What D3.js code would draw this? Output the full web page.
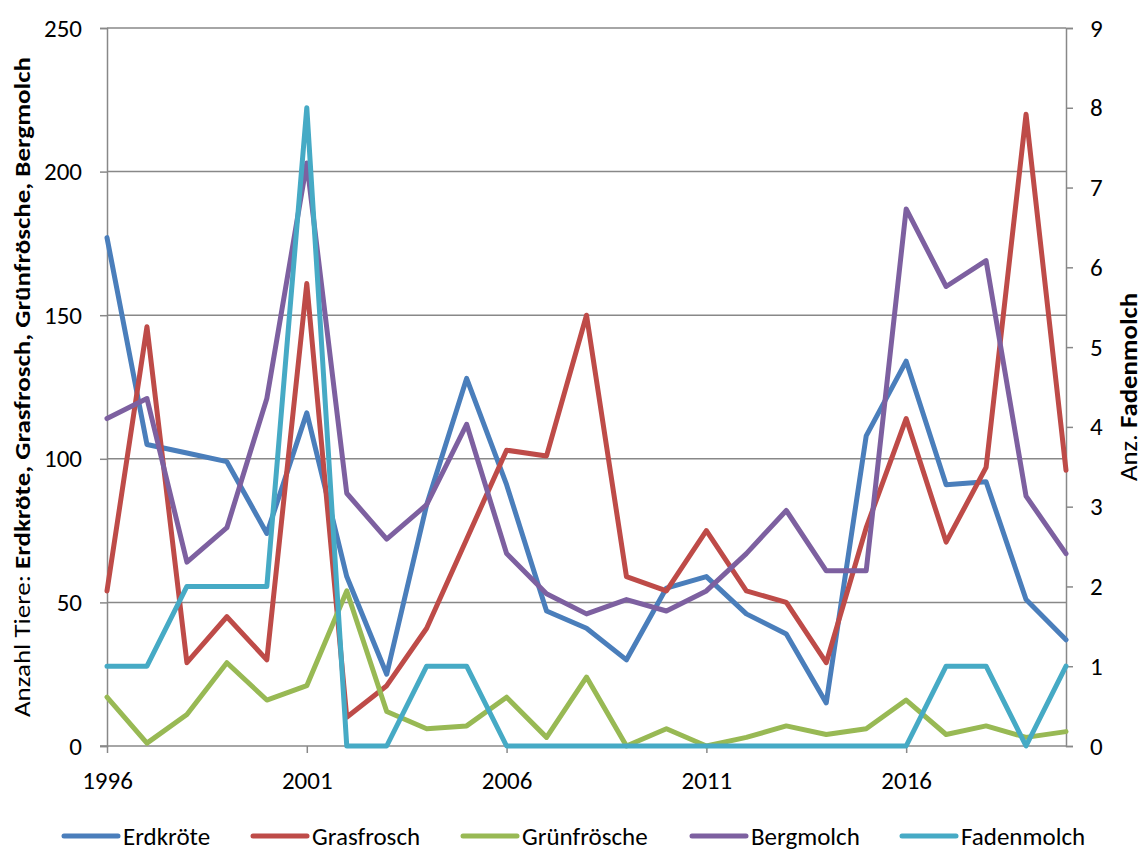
<!DOCTYPE html>
<html>
<head>
<meta charset="utf-8">
<script src="https://cdn.jsdelivr.net/npm/d3@7"></script>
<style>
  html, body { margin: 0; padding: 0; background: #fff; }
  svg { display: block; font-family: Carlito, Calibri, Lato, sans-serif; }
</style>
</head>
<body>
<svg id="chart" width="1145" height="855"></svg>
<script>
// Amphibian counts per year
const years = d3.range(1996, 2021);
const erdkroete   = [177,105,102,99,74,116,59,25,84,128,91,47,41,30,55,59,46,39,15,108,134,91,92,51,37];
const grasfrosch  = [54,146,29,45,30,161,10,21,41,72,103,101,150,59,54,75,54,50,29,76,114,71,97,220,96];
const gruenfroesche = [17,1,11,29,16,21,54,12,6,7,17,3,24,0,6,0,3,7,4,6,16,4,7,3,5];
const bergmolch   = [114,121,64,76,121,203,88,72,84,112,67,53,46,51,47,54,67,82,61,61,187,160,169,87,67];
// Fadenmolch is plotted on the secondary (right) axis
const fadenmolch  = [1,1,2,2,2,8,0,0,1,1,0,0,0,0,0,0,0,0,0,0,0,1,1,0,1];

const seriesNames = ["Erdkröte", "Grasfrosch", "Grünfrösche", "Bergmolch", "Fadenmolch"];
const seriesColors = ["#4a7ebb", "#be4b48", "#98b954", "#7d60a0", "#46aac5"];
const leftTicks = [0, 50, 100, 150, 200, 250];
const rightTicks = [0, 1, 2, 3, 4, 5, 6, 7, 8, 9];
const xTickYears = [1996, 2001, 2006, 2011, 2016];

const svg = d3.select("#chart");
const plotLeft = 107, plotRight = 1066, plotTop = 28, plotBottom = 746;
const gridColor = "#888888";
const textColor = "#000";
const tickFont = "25px";

const x = d3.scaleLinear().domain([1996, 2020]).range([plotLeft, plotRight]);
const yL = d3.scaleLinear().domain([0, 250]).range([plotBottom, plotTop]);
const yR = d3.scaleLinear().domain([0, 9]).range([plotBottom, plotTop]);

// horizontal gridlines for the primary axis
svg.append("g").selectAll("line").data(leftTicks.filter(d => d > 0)).join("line")
  .attr("x1", plotLeft).attr("x2", plotRight)
  .attr("y1", d => yL(d)).attr("y2", d => yL(d))
  .attr("stroke", gridColor).attr("stroke-width", 1.5);

// primary axis (left)
const gLeft = svg.append("g").attr("transform", `translate(${plotLeft},0)`)
  .call(d3.axisLeft(yL).tickValues(leftTicks).tickSize(7).tickPadding(18).tickFormat(d3.format("d")));
// secondary axis (right)
const gRight = svg.append("g").attr("transform", `translate(${plotRight},0)`)
  .call(d3.axisRight(yR).tickValues(rightTicks).tickSize(7).tickPadding(17).tickFormat(d3.format("d")));
// category axis (bottom)
const gBottom = svg.append("g").attr("transform", `translate(0,${plotBottom})`)
  .call(d3.axisBottom(x).tickValues(xTickYears).tickSize(7).tickPadding(18).tickFormat(d3.format("d")));

[gLeft, gRight, gBottom].forEach(g => {
  g.select(".domain").attr("stroke", gridColor).attr("stroke-width", 1.5);
  g.selectAll(".tick line").attr("stroke", gridColor).attr("stroke-width", 1.5);
  g.selectAll(".tick text").attr("fill", textColor).style("font-size", tickFont)
    .style("font-family", "Carlito, Calibri, Lato, sans-serif");
});
// extend the bottom axis line to the left tick mark
gBottom.select(".domain").attr("d", `M${plotLeft - 7},0H${plotRight}`);

// series lines
const allSeries = [erdkroete, grasfrosch, gruenfroesche, bergmolch, fadenmolch];
const lineL = d3.line().x((d, i) => x(years[i])).y(d => yL(d));
const lineR = d3.line().x((d, i) => x(years[i])).y(d => yR(d));
const gLines = svg.append("g");
allSeries.forEach((s, k) => {
  gLines.append("path")
    .datum(s)
    .attr("d", k === 4 ? lineR : lineL)
    .attr("fill", "none")
    .attr("stroke", seriesColors[k])
    .attr("stroke-width", 5)
    .attr("stroke-linejoin", "round")
    .attr("stroke-linecap", "round");
});

// axis titles
const cy = (plotTop + plotBottom) / 2;
const tL = svg.append("text")
  .attr("transform", `translate(30,${cy}) rotate(-90)`)
  .attr("text-anchor", "middle")
  .attr("textLength", 660).attr("lengthAdjust", "spacingAndGlyphs")
  .style("font-size", "23px").attr("fill", textColor);
tL.append("tspan").text("Anzahl Tiere: ");
tL.append("tspan").attr("font-weight", "bold").text("Erdkröte, Grasfrosch, Grünfrösche, Bergmolch");

const tR = svg.append("text")
  .attr("transform", `translate(1137,${cy}) rotate(-90)`)
  .attr("text-anchor", "middle")
  .attr("textLength", 188).attr("lengthAdjust", "spacingAndGlyphs")
  .style("font-size", "24px").attr("fill", textColor);
tR.append("tspan").text("Anz. ");
tR.append("tspan").attr("font-weight", "bold").text("Fadenmolch");

// legend
const legendX = [64, 253, 463, 692, 902];
const legendY = 836;
const gLeg = svg.append("g");
seriesNames.forEach((name, k) => {
  gLeg.append("line")
    .attr("x1", legendX[k]).attr("x2", legendX[k] + 54)
    .attr("y1", legendY).attr("y2", legendY)
    .attr("stroke", seriesColors[k]).attr("stroke-width", 5).attr("stroke-linecap", "round");
  gLeg.append("text")
    .attr("x", legendX[k] + 59).attr("y", legendY)
    .attr("dy", "0.36em")
    .style("font-size", "25px").attr("fill", textColor)
    .text(name);
});
</script>
</body>
</html>
